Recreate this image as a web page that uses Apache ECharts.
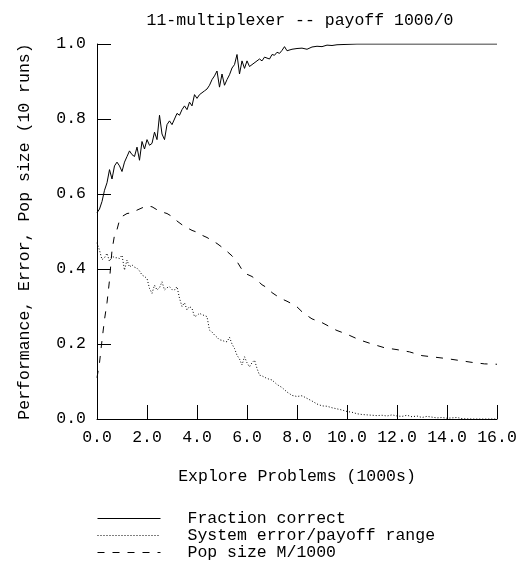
<!DOCTYPE html>
<html>
<head>
<meta charset="utf-8">
<script src="https://cdn.jsdelivr.net/npm/echarts@6/dist/echarts.min.js"></script>
<style>
  html, body { margin: 0; padding: 0; background: #fff; }
  #chart { width: 523px; height: 569px; }
</style>
</head>
<body>
<div id="chart"></div>
<script>
// x values are explore problems in thousands
const fractionX = [0.0, 0.1, 0.2, 0.3, 0.4, 0.5, 0.6, 0.7, 0.8, 0.9, 1.0, 1.1, 1.2, 1.3, 1.4, 1.5, 1.6, 1.7, 1.8, 1.9,
  2.0, 2.1, 2.2, 2.3, 2.4, 2.5, 2.6, 2.7, 2.8, 2.9, 3.0, 3.1, 3.2, 3.3, 3.4, 3.5, 3.6, 3.7, 3.8, 3.9,
  4.0, 4.1, 4.2, 4.3, 4.4, 4.5, 4.6, 4.7, 4.8, 4.9, 5.0, 5.1, 5.2, 5.3, 5.4, 5.5, 5.6, 5.7, 5.8, 5.9,
  6.0, 6.1, 6.2, 6.4, 6.5, 6.6, 6.7, 6.9, 7.0, 7.1, 7.2, 7.3, 7.4, 7.5, 7.6, 7.8, 8.0, 8.2, 8.4, 8.6,
  8.8, 9.0, 9.2, 9.4, 9.6, 10.0, 10.4, 12.0, 14.0, 16.0];
const fractionY = [0.55, 0.56, 0.58, 0.61, 0.63, 0.665, 0.64, 0.675, 0.685, 0.675, 0.66, 0.685, 0.70, 0.715, 0.705, 0.70, 0.725, 0.69, 0.74, 0.72,
  0.745, 0.73, 0.735, 0.765, 0.745, 0.81, 0.76, 0.745, 0.785, 0.795, 0.785, 0.80, 0.815, 0.81, 0.825, 0.835, 0.825, 0.845, 0.835, 0.865,
  0.855, 0.865, 0.87, 0.875, 0.88, 0.89, 0.905, 0.915, 0.928, 0.885, 0.92, 0.89, 0.905, 0.918, 0.936, 0.945, 0.972, 0.92, 0.955, 0.935,
  0.955, 0.94, 0.945, 0.955, 0.96, 0.955, 0.965, 0.96, 0.972, 0.97, 0.978, 0.975, 0.983, 0.993, 0.982, 0.986, 0.988, 0.989, 0.986, 0.992,
  0.994, 0.993, 0.997, 0.996, 0.998, 0.999, 1.0, 1.0, 1.0, 1.0];

const errorX = [0.0, 0.1, 0.2, 0.3, 0.4, 0.5, 0.6, 0.7, 0.8, 0.9, 1.0, 1.1, 1.2, 1.3, 1.4, 1.5, 1.6, 1.7, 1.8, 1.9,
  2.0, 2.1, 2.2, 2.3, 2.4, 2.5, 2.6, 2.7, 2.8, 2.9, 3.0, 3.1, 3.2, 3.3, 3.4, 3.5, 3.6, 3.7, 3.8, 3.9,
  4.0, 4.1, 4.2, 4.3, 4.4, 4.5, 4.6, 4.7, 4.8, 4.9, 5.0, 5.1, 5.2, 5.3, 5.4, 5.5, 5.6, 5.7, 5.8, 5.9,
  6.0, 6.1, 6.2, 6.3, 6.4, 6.5, 6.6, 6.8, 7.0, 7.2, 7.4, 7.6, 7.8, 8.0, 8.2, 8.4, 8.6, 8.8, 9.0, 9.2,
  9.4, 9.6, 9.8, 10.0, 10.2, 10.4, 10.6, 10.8, 11.0, 11.2, 11.4, 11.6, 11.8, 12.0, 12.2, 12.4, 12.6, 12.8, 13.0, 13.2,
  13.4, 13.6, 13.8, 14.0, 14.4, 14.6, 15.0, 16.0];
const errorY = [0.47, 0.45, 0.425, 0.43, 0.442, 0.42, 0.435, 0.43, 0.43, 0.428, 0.437, 0.397, 0.424, 0.405, 0.411, 0.405, 0.402, 0.395, 0.384, 0.38,
  0.375, 0.348, 0.335, 0.357, 0.344, 0.35, 0.366, 0.344, 0.35, 0.353, 0.345, 0.344, 0.353, 0.322, 0.30, 0.31, 0.291, 0.30, 0.295, 0.273,
  0.276, 0.282, 0.278, 0.276, 0.273, 0.237, 0.232, 0.224, 0.218, 0.211, 0.21, 0.207, 0.206, 0.218, 0.20, 0.188, 0.17, 0.16, 0.144, 0.166,
  0.15, 0.139, 0.15, 0.157, 0.135, 0.117, 0.115, 0.108, 0.104, 0.092, 0.084, 0.072, 0.063, 0.06, 0.062, 0.055, 0.048, 0.04, 0.035, 0.034,
  0.03, 0.027, 0.024, 0.02, 0.018, 0.014, 0.012, 0.011, 0.01, 0.009, 0.01, 0.008, 0.011, 0.008, 0.007, 0.01, 0.006, 0.008, 0.004, 0.007,
  0.005, 0.003, 0.004, 0.002, 0.004, 0.001, 0.0, 0.0];

const popX = [0.0, 0.1, 0.2, 0.3, 0.4, 0.5, 0.6, 0.7, 0.8, 0.9, 1.0, 1.2, 1.4, 1.6, 1.8, 2.0, 2.2, 2.4, 2.6, 2.8,
  3.0, 3.2, 3.4, 3.6, 3.8, 4.0, 4.2, 4.4, 4.6, 4.8, 5.0, 5.2, 5.4, 5.6, 5.8, 6.0, 6.2, 6.4, 6.6, 6.8,
  7.0, 7.2, 7.4, 7.6, 7.8, 8.0, 8.2, 8.4, 8.6, 8.8, 9.0, 9.2, 9.4, 9.6, 9.8, 10.0, 10.5, 11.0, 11.5, 12.0,
  12.5, 13.0, 13.5, 14.0, 14.5, 15.0, 15.5, 16.0];
const popY = [0.11, 0.15, 0.21, 0.265, 0.31, 0.37, 0.45, 0.49, 0.505, 0.53, 0.54, 0.548, 0.55, 0.557, 0.563, 0.568, 0.566, 0.558, 0.552, 0.548,
  0.54, 0.528, 0.518, 0.51, 0.503, 0.498, 0.49, 0.484, 0.476, 0.468, 0.458, 0.447, 0.435, 0.42, 0.398, 0.386, 0.38, 0.37, 0.358, 0.35,
  0.337, 0.328, 0.32, 0.314, 0.307, 0.299, 0.286, 0.276, 0.267, 0.262, 0.257, 0.25, 0.242, 0.236, 0.231, 0.226, 0.211, 0.20, 0.19, 0.185,
  0.179, 0.169, 0.165, 0.161, 0.156, 0.151, 0.147, 0.146];

const seriesNames = ['Fraction correct', 'System error/payoff range', 'Pop size M/1000'];

const FONT = '"Liberation Mono", "DejaVu Sans Mono", monospace';

function pairs(xs, ys) {
  return xs.map((x, i) => [x, ys[i]]);
}

function lineSeries(name, xs, ys, type) {
  return {
    name: name,
    type: 'line',
    data: pairs(xs, ys),
    symbol: 'none',
    animation: false,
    lineStyle: { color: '#000', width: 1, type: type },
    itemStyle: { color: '#000' }
  };
}

const chart = echarts.init(document.getElementById('chart'));
chart.setOption({
  backgroundColor: '#fff',
  textStyle: { fontFamily: FONT, color: '#000' },
  title: {
    text: '11-multiplexer -- payoff 1000/0',
    left: 295,
    top: 7,
    textAlign: 'center',
    textStyle: { fontFamily: FONT, fontSize: 16.5, fontWeight: 'normal', color: '#000' }
  },
  grid: { left: 97, right: 26, top: 44, bottom: 150 },
  xAxis: {
    type: 'value',
    min: 0,
    max: 16,
    interval: 2,
    name: 'Explore Problems (1000s)',
    nameLocation: 'middle',
    nameGap: 49,
    nameTextStyle: { fontFamily: FONT, fontSize: 16.5, color: '#000' },
    axisLine: { lineStyle: { color: '#000', width: 1 } },
    axisTick: { inside: true, length: 14, lineStyle: { color: '#000' } },
    axisLabel: { fontFamily: FONT, fontSize: 16.5, color: '#000', margin: 10, formatter: v => v.toFixed(1) },
    splitLine: { show: false }
  },
  yAxis: {
    type: 'value',
    min: 0,
    max: 1,
    interval: 0.2,
    name: 'Performance, Error, Pop size (10 runs)',
    nameLocation: 'middle',
    nameRotate: 90,
    nameGap: 64,
    nameTextStyle: { fontFamily: FONT, fontSize: 16.5, color: '#000' },
    axisLine: { show: true, lineStyle: { color: '#000', width: 1 } },
    axisTick: { show: true, inside: true, length: 14, lineStyle: { color: '#000' } },
    axisLabel: { fontFamily: FONT, fontSize: 16.5, color: '#000', margin: 11, formatter: v => v.toFixed(1) },
    splitLine: { show: false }
  },
  legend: {
    orient: 'vertical',
    left: 97,
    top: 510,
    padding: 0,
    itemWidth: 63,
    itemHeight: 14,
    itemGap: 0,
    selectedMode: false,
    data: seriesNames,
    itemStyle: { opacity: 0 },
    lineStyle: { width: 1 },
    textStyle: { fontFamily: FONT, fontSize: 16.5, lineHeight: 16, color: '#000', padding: [0, 0, 0, 22] }
  },
  series: [
    lineSeries(seriesNames[0], fractionX, fractionY, 'solid'),
    lineSeries(seriesNames[1], errorX, errorY, [1, 2]),
    lineSeries(seriesNames[2], popX, popY, [7, 8])
  ]
});
</script>
</body>
</html>
